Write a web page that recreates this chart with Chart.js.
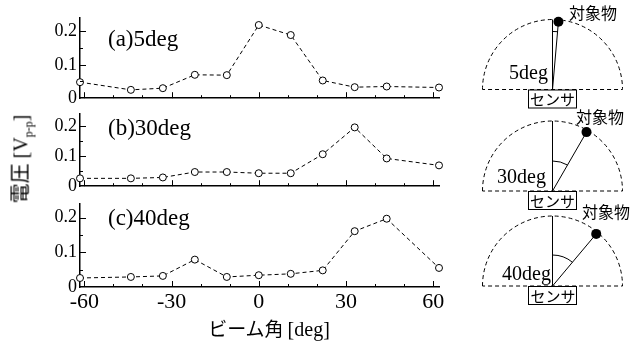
<!DOCTYPE html>
<html>
<head>
<meta charset="utf-8">
<script src="https://cdn.jsdelivr.net/npm/chart.js@4.4.0/dist/chart.umd.min.js"></script>
<style>
html, body { margin: 0; padding: 0; background: #fff; }
#wrap { position: relative; width: 644px; height: 345px; overflow: hidden; }
canvas { position: absolute; }
.t { position: absolute; white-space: nowrap; line-height: 1; color: #000; }
.serif { font-family: "Liberation Serif", "Times New Roman", serif; }
.jp { font-family: "Noto Sans CJK JP", sans-serif; }
</style>
</head>
<body>
<div id="wrap">
	<canvas id="p1" width="460" height="112" style="left:0;top:0"></canvas>
	<canvas id="p2" width="460" height="100" style="left:0;top:100px"></canvas>
	<canvas id="p3" width="460" height="130" style="left:0;top:190px"></canvas>
	<canvas id="dg" width="184" height="345" style="left:460px;top:0"></canvas>

	<div class="t serif" style="left:108px;top:27px;font-size:23px">(a)5deg</div>
	<div class="t serif" style="left:108px;top:116px;font-size:23px">(b)30deg</div>
	<div class="t serif" style="left:108px;top:206px;font-size:23px">(c)40deg</div>

	<div class="t" style="left:22px;top:159px;transform:translate(-50%,-50%) rotate(-90deg);font-size:20px"><span class="jp">電圧</span> <span class="serif">[V<sub style="font-size:12px">p-p</sub>]</span></div>
	<div class="t" style="left:269px;top:328px;transform:translate(-50%,-50%)"><span class="jp" style="font-size:19px">ビーム角</span> <span class="serif" style="font-size:20px">[deg]</span></div>

	<div class="t jp" style="left:569px;top:4px;font-size:16px">対象物</div>
	<div class="t jp" style="left:576px;top:108px;font-size:16px">対象物</div>
	<div class="t jp" style="left:582px;top:203px;font-size:16px">対象物</div>

	<div class="t jp" style="left:528px;top:91px;width:49px;text-align:center;font-size:15px">センサ</div>
	<div class="t jp" style="left:528px;top:193px;width:49px;text-align:center;font-size:15px">センサ</div>
	<div class="t jp" style="left:528px;top:288px;width:50px;text-align:center;font-size:15px">センサ</div>

	<div class="t serif" style="right:96px;top:62px;font-size:20px">5deg</div>
	<div class="t serif" style="right:98px;top:166px;font-size:20px">30deg</div>
	<div class="t serif" style="right:93px;top:263px;font-size:20px">40deg</div>
</div>
<script>
"use strict";

// beam angle [deg]
const beamAngles = [-61.5, -44, -33, -22, -11, 0, 11, 22, 33, 44, 62];
// voltage [Vp-p] for object at 5, 30 and 40 deg
const volt5deg  = [0.048, 0.025, 0.030, 0.070, 0.069, 0.219, 0.189, 0.053, 0.033, 0.035, 0.032];
const volt30deg = [0.026, 0.026, 0.029, 0.047, 0.047, 0.043, 0.043, 0.106, 0.195, 0.092, 0.069];
const volt40deg = [0.026, 0.029, 0.032, 0.079, 0.029, 0.034, 0.038, 0.048, 0.161, 0.197, 0.055];

const xTickLabels = [-60, -30, 0, 30, 60];
const xTickMarks = [-60, -50, -40, -30, -20, -10, 0, 10, 20, 30, 40, 50, 60];
const yTickLabels = [0, 0.1, 0.2];
const yTickMarks = [0.05, 0.1, 0.15, 0.2];
const objectAngles = [5, 30, 40];

Chart.defaults.font.family = '"Liberation Serif", "Times New Roman", serif';
Chart.defaults.color = "#000";

// tick marks pointing into the plot
const innerTicks = {
	id: "innerTicks",
	afterDraw(chart) {
		const { ctx, chartArea: a, scales: { x, y } } = chart;
		ctx.save();
		ctx.strokeStyle = "#000";
		ctx.lineWidth = 1;
		ctx.beginPath();
		for (const v of xTickMarks) {
			const px = Math.round(x.getPixelForValue(v)) + 0.5;
			const len = v % 30 === 0 ? 6 : 3;
			ctx.moveTo(px, a.bottom);
			ctx.lineTo(px, a.bottom - len);
		}
		for (const v of yTickMarks) {
			const py = Math.round(y.getPixelForValue(v)) + 0.5;
			const len = Math.abs(v * 10 - Math.round(v * 10)) < 1e-6 ? 6 : 3;
			ctx.moveTo(a.left, py);
			ctx.lineTo(a.left + len, py);
		}
		ctx.stroke();
		ctx.restore();
	}
};

function makePanel(id, values, pad, showX) {
	return new Chart(document.getElementById(id), {
		type: "line",
		data: {
			datasets: [{
				data: beamAngles.map((a, i) => ({ x: a, y: values[i] })),
				borderColor: "#000",
				borderWidth: 1,
				borderDash: [4, 3],
				pointRadius: 3.5,
				pointBorderWidth: 1,
				pointBackgroundColor: "#fff",
				pointBorderColor: "#000",
				clip: false,
				tension: 0,
			}],
		},
		options: {
			responsive: false,
			animation: false,
			events: [],
			layout: { padding: pad },
			plugins: { legend: { display: false }, tooltip: { enabled: false } },
			scales: {
				x: {
					type: "linear",
					min: -61.5,
					max: 62,
					afterBuildTicks: s => { s.ticks = xTickLabels.map(v => ({ value: v })); },
					afterFit: s => { s.height = showX ? 33 : 0; },
					ticks: { display: showX, padding: 2, maxRotation: 0, font: { size: 22 } },
					grid: { display: true, drawOnChartArea: false, drawTicks: false },
					border: { display: true, color: "#000", width: 1.5 },
				},
				y: {
					min: 0,
					max: 0.24,
					afterBuildTicks: s => { s.ticks = yTickLabels.map(v => ({ value: v })); },
					afterFit: s => { s.width = 80; },
					ticks: { padding: 3, font: { size: 18 } },
					grid: { display: true, drawOnChartArea: false, drawTicks: false },
					border: { display: true, color: "#000", width: 1.5 },
				},
			},
		},
		plugins: [innerTicks],
	});
}

makePanel("p1", volt5deg, { top: 18, bottom: 4, left: 0, right: 21 }, false);
makePanel("p2", volt30deg, { top: 7, bottom: 3, left: 0, right: 21 }, false);
makePanel("p3", volt40deg, { top: 7, bottom: 0, left: 0, right: 21 }, true);

// sensor sketches on the right
function drawSketch(ctx, cy, angle, arcR) {
	const cx = 92.5;
	const r = 70;
	const t = angle * Math.PI / 180;
	ctx.strokeStyle = "#000";
	ctx.lineWidth = 1;

	ctx.setLineDash([4, 3]);
	ctx.beginPath();
	ctx.arc(cx, cy, r, Math.PI, 2 * Math.PI);
	ctx.closePath();
	ctx.stroke();
	ctx.setLineDash([]);

	const ox = cx + 68 * Math.sin(t);
	const oy = cy - 68 * Math.cos(t);
	ctx.beginPath();
	ctx.moveTo(cx, cy);
	ctx.lineTo(cx, cy - r);
	ctx.moveTo(cx, cy);
	ctx.lineTo(ox, oy);
	ctx.stroke();

	ctx.beginPath();
	ctx.arc(cx, cy, arcR, -Math.PI / 2, -Math.PI / 2 + t);
	ctx.stroke();

	ctx.fillStyle = "#000";
	ctx.beginPath();
	ctx.arc(ox, oy, 5, 0, 2 * Math.PI);
	ctx.fill();

	ctx.fillStyle = "#fff";
	ctx.fillRect(68.5, cy + 0.5, 48, 18);
	ctx.strokeRect(68.5, cy + 0.5, 48, 18);
}

const dg = document.getElementById("dg").getContext("2d");
drawSketch(dg, 89.5, objectAngles[0], 58);
drawSketch(dg, 191, objectAngles[1], 30);
drawSketch(dg, 286, objectAngles[2], 31);
</script>
</body>
</html>
